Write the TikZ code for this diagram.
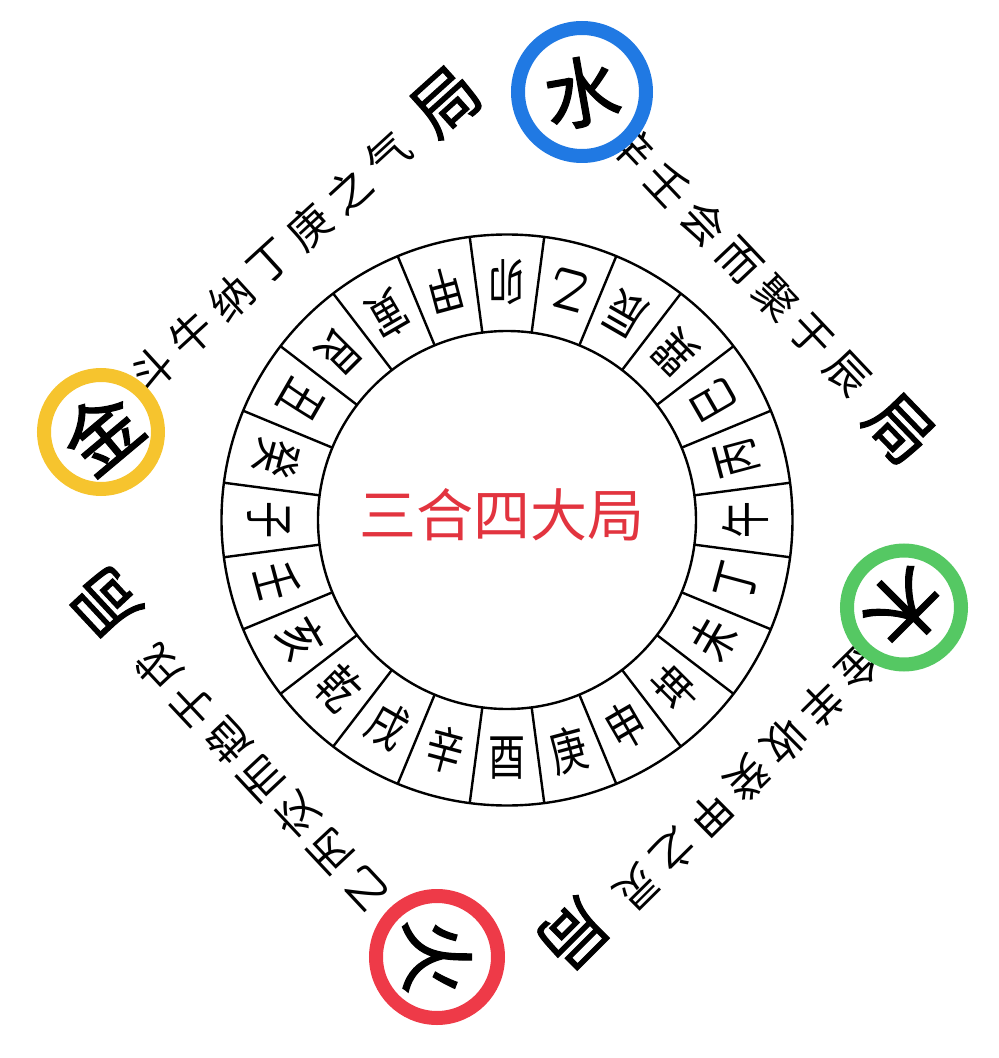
\documentclass[tikz,border=0pt]{standalone}
\usepackage{fontspec}
\setmainfont{Noto Sans CJK SC}
\newfontfamily\cjk{Noto Sans CJK SC}
\newfontfamily\ringfont{Noto Sans CJK SC}[FakeStretch=0.74]
\newfontfamily\jufont{Noto Sans CJK SC}[FakeBold=1.6]
\usetikzlibrary{calc}

\definecolor{shuiblue}{HTML}{2079E3}
\definecolor{jinyellow}{HTML}{F6C42E}
\definecolor{mugreen}{HTML}{55C863}
\definecolor{huored}{HTML}{EE3A48}
\definecolor{titlered}{HTML}{E2343F}

\begin{document}
\begin{tikzpicture}[x=1pt, y=1pt, line width=2.4pt,
    gan/.style={font=\ringfont\fontsize{50}{50}\selectfont, inner sep=0pt},
    verse/.style={font=\cjk\fontsize{43}{43}\selectfont, inner sep=0pt},
    ju/.style={font=\jufont\fontsize{66}{66}\selectfont, inner sep=0pt},
    elem/.style={font=\jufont\fontsize{76}{76}\selectfont, inner sep=0pt},
    ring/.style={circle, draw=#1, line width=14pt, fill=white, inner sep=0pt}]
    \useasboundingbox (-507,-538) rectangle (492,520);

    % 二十四山
    \coordinate (o) at (0,0);
    \draw (o) circle (285.5);
    \draw (o) circle (189);
    \foreach \k in {0,...,23}
        \draw ({97.5-15*\k}:189) -- ({97.5-15*\k}:285.5);
    \foreach \c [count=\i from 0] in {卯,乙,辰,巽,巳,丙,午,丁,未,坤,申,庚,酉,辛,戌,乾,亥,壬,子,癸,丑,艮,寅,甲}
        \node[gan, rotate=180-15*\i] (g\i) at ({90-15*\i}:238) {\c};

    \node[font=\cjk\fontsize{57}{57}\selectfont, text=titlered, inner sep=0pt] (title) at (-5,5) {三合四大局};

    % verses
    \coordinate (tls) at (-354.5,150);  \coordinate (tle) at (-119,365);
    \coordinate (trs) at (125,373);     \coordinate (tre) at (340,146);
    \coordinate (brs) at (352,-148);    \coordinate (bre) at (130,-368);
    \coordinate (bls) at (-142,-368);   \coordinate (ble) at (-348,-148);
    \foreach \c [count=\i from 0] in {斗,牛,纳,丁,庚,之,气}
        \node[verse, rotate=42.4] (tl\i) at ($(tls)!\i/6!(tle)$) {\c};
    \foreach \c [count=\i from 0] in {辛,壬,会,而,聚,于,辰}
        \node[verse, rotate=-46.6] (tr\i) at ($(trs)!\i/6!(tre)$) {\c};
    \foreach \c [count=\i from 0] in {金,羊,收,癸,甲,之,灵}
        \node[verse, rotate=224.7] (br\i) at ($(brs)!\i/6!(bre)$) {\c};
    \foreach \c [count=\i from 0] in {乙,丙,交,而,趋,于,戌}
        \node[verse, rotate=133.1] (bl\i) at ($(bls)!\i/6!(ble)$) {\c};

    \node[ju, rotate=42] (jutl) at (-61,418) {局};
    \node[ju, rotate=-46] (jutr) at (392,91) {局};
    \node[ju, rotate=225] (jubr) at (66,-414) {局};
    \node[ju, rotate=133] (jubl) at (-401,-82) {局};

    % 水 金 木 火
    \node[ring=shuiblue, minimum size=128] (shuic) at (75,428) {};
    \node[ring=jinyellow, minimum size=114] (jinc) at (-406,88) {};
    \node[ring=mugreen, minimum size=114] (muc) at (397,-87.5) {};
    \node[ring=huored, minimum size=122] (huoc) at (-70,-437) {};
    \node[elem, rotate=10] (shui) at (shuic) {水};
    \node[elem, rotate=40] (jin) at (jinc) {金};
    \node[elem, rotate=-135] (mu) at (muc) {木};
    \node[elem, rotate=-90] (huo) at (huoc) {火};
\end{tikzpicture}
\end{document}
